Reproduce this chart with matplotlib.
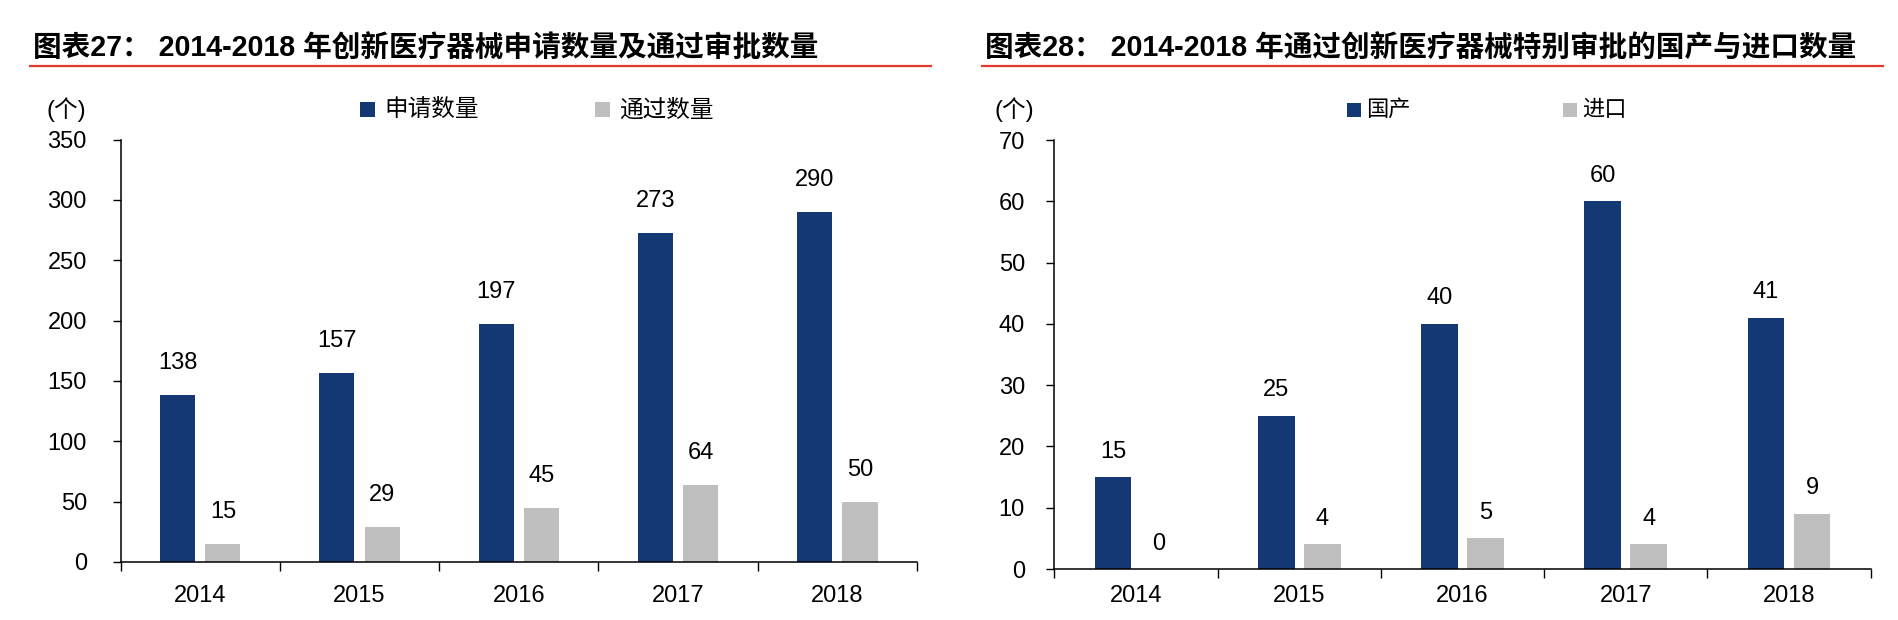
import matplotlib
matplotlib.use("Agg")
import matplotlib.pyplot as plt
from matplotlib.patches import Rectangle
from matplotlib.lines import Line2D
import numpy as np

# ---------------- data ----------------
years = ["2014", "2015", "2016", "2017", "2018"]
applied = [138, 157, 197, 273, 290]      # 申请数量
approved = [15, 29, 45, 64, 50]          # 通过数量
domestic = [15, 25, 40, 60, 41]          # 国产
imported = [0, 4, 5, 4, 9]               # 进口

title_left = "图表27： 2014-2018 年创新医疗器械申请数量及通过审批数量"
title_right = "图表28： 2014-2018 年通过创新医疗器械特别审批的国产与进口数量"
legend_left = ["申请数量", "通过数量"]
legend_right = ["国产", "进口"]
unit_label = "(个)"

DARK = "#133873"
GRAY = "#BFBFBF"
RED = "#E2392C"

FAM = ["Liberation Sans", "Noto Sans CJK SC", "DejaVu Sans"]
plt.rcParams["font.family"] = FAM

W, H = 1898, 620
fig = plt.figure(figsize=(W / 100, H / 100), dpi=100)
fig.patch.set_facecolor("white")


def fx(x):
    return x / W


def fy(y):
    return 1 - y / H


def make_axes(x0, x1, ytop, ybot):
    return fig.add_axes([fx(x0), fy(ybot), fx(x1) - fx(x0), fy(ytop) - fy(ybot)])


def draw_chart(ax, s1, s2, ymax, ystep, bw, off, lab_off, ypad, xpad):
    x = np.arange(len(years))
    ax.bar(x - off, s1, width=bw, color=DARK, linewidth=0, zorder=2)
    ax.bar(x + off, s2, width=bw, color=GRAY, linewidth=0, zorder=2)
    for xi, v in zip(x, s1):
        ax.annotate(str(v), (xi - off, v), xytext=(0, lab_off), textcoords="offset points",
                    ha="center", va="baseline", fontsize=17, color="black")
    for xi, v in zip(x, s2):
        ax.annotate(str(v), (xi + off, v), xytext=(0, lab_off), textcoords="offset points",
                    ha="center", va="baseline", fontsize=17, color="black")
    ax.set_xlim(-0.5, len(years) - 0.5)
    ax.set_ylim(0, ymax)
    ax.set_yticks(np.arange(0, ymax + ystep / 2, ystep))
    ax.set_xticks(x)
    ax.set_xticklabels(years)
    ax.set_xticks(np.arange(-0.5, len(years)), minor=True)
    ax.tick_params(axis="x", which="major", length=0, pad=xpad, labelsize=17)
    ax.tick_params(axis="x", which="minor", length=6.5, width=1, direction="out", color="black")
    ax.tick_params(axis="y", which="major", length=5.8, width=1, direction="out", pad=ypad,
                   labelsize=17, color="black")
    for s in ["top", "right"]:
        ax.spines[s].set_visible(False)
    for s in ["left", "bottom"]:
        ax.spines[s].set_color("black")
        ax.spines[s].set_linewidth(1.1)
    ax.set_facecolor("white")


# left chart
axL = make_axes(120.7, 917, 139.6, 562)
draw_chart(axL, applied, approved, 350, 50, 0.22, 0.142, 18.7, 18.5, 16.5)

# right chart
axR = make_axes(1054.4, 1870.6, 140, 569)
draw_chart(axR, domestic, imported, 70, 10, 0.224, 0.141, 14, 15.4, 11.5)

# titles
fig.text(fx(33), fy(56), title_left, fontsize=20.6, fontweight="bold", ha="left",
         va="baseline", color="black")
fig.text(fx(985), fy(56), title_right, fontsize=20.6, fontweight="bold", ha="left",
         va="baseline", color="black")
fig.add_artist(Line2D([fx(30), fx(931)], [fy(66), fy(66)], color=RED, linewidth=1.6))
fig.add_artist(Line2D([fx(982), fx(1883)], [fy(66), fy(66)], color=RED, linewidth=1.6))

# unit labels
fig.text(fx(47), fy(110), unit_label, fontsize=17, ha="left", va="center", color="black")
fig.text(fx(994), fy(110), unit_label, fontsize=17, ha="left", va="center", color="black")


# legends
def legend_item(x_sq, size, color, x_txt, label, fsize):
    fig.add_artist(Rectangle((fx(x_sq), fy(110 + size / 2)), size / W, size / H,
                             transform=fig.transFigure, facecolor=color, edgecolor="none"))
    fig.text(fx(x_txt), fy(110), label, fontsize=fsize, ha="left", va="center", color="black")


legend_item(360, 15, DARK, 384, legend_left[0], 17)
legend_item(595, 15, GRAY, 619, legend_left[1], 17)
legend_item(1347, 14, DARK, 1366, legend_right[0], 16)
legend_item(1563, 14, GRAY, 1582, legend_right[1], 16)

fig.savefig("out.png", dpi=100, facecolor="white")
